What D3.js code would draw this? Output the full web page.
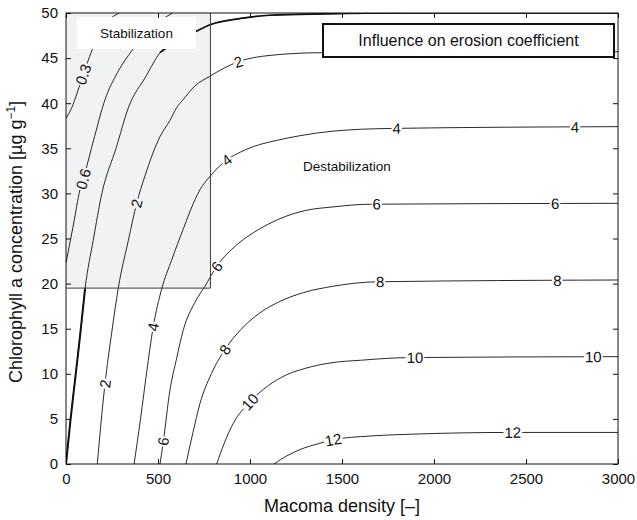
<!DOCTYPE html>
<html>
<head>
<meta charset="utf-8">
<script src="https://cdn.jsdelivr.net/npm/d3@7"></script>
<style>
  body { margin: 0; background: #fff; }
  text { font-family: "Liberation Sans", Arial, sans-serif; fill: #111; }
</style>
</head>
<body>
<div id="canvas"></div>
<script>
// ticks
const xTicks = [0, 500, 1000, 1500, 2000, 2500, 3000];
const yTicks = [0, 5, 10, 15, 20, 25, 30, 35, 40, 45, 50];

// contour lines, [macoma density, chlorophyll]
const line03 = [[0,38.3],[31,39.5],[94,43.2],[140,45.8],[200,48.4],[290,50]];
const line06 = [[0,22.3],[40,26.5],[76,30.4],[94,31.6],[155,36.3],[212,40.4],[280,43.4],[357,45.8],[460,48.3],[580,50]];
const line1  = [[0,0],[25,5],[53,10],[78,14.5],[104,19.5],[148,24.8],[195,30],[272,35],[339,39.5],[435,43],[511,45.6],[600,46.9],[701,47.9],[783,48.7],[950,49.4],[1109,49.75],[1400,49.9],[1870,50],[3000,50]];
const line2  = [[170,0],[190,4.5],[212,8.9],[248,14.5],[284,19.5],[339,24.8],[384,28.9],[430,32],[511,36.3],[565,38.1],[601,39.5],[637,40.4],[700,41.9],[783,43],[860,43.9],[937,44.6],[1109,45.3],[1390,45.6],[3000,45.7]];
const line4  = [[370,0],[405,5],[438,10.1],[474,15.2],[520,19.4],[574,22.6],[640,26.2],[701,29.3],[728,30.4],[783,31.9],[873,33.7],[950,34.6],[1050,35.4],[1150,35.9],[1272,36.4],[1450,36.9],[1761,37.2],[3000,37.4]];
const line6  = [[511,0],[529,2.5],[565,8.2],[600,11.6],[638,14.9],[700,17.9],[755,19.7],[819,21.9],[928,24.3],[1000,25.4],[1100,26.6],[1200,27.5],[1300,28.1],[1450,28.5],[1652,28.8],[3000,28.9]];
const line8  = [[652,0],[690,3.5],[728,6.7],[790,10],[864,12.7],[950,14.9],[1050,16.7],[1150,17.9],[1290,19],[1450,19.7],[1689,20.2],[3000,20.4]];
const line10 = [[819,0],[860,2.3],[909,4.5],[1000,6.9],[1100,8.7],[1200,9.9],[1300,10.6],[1435,11.2],[1600,11.5],[1870,11.8],[3000,11.9]];
const line12 = [[1130,0],[1200,0.9],[1272,1.6],[1380,2.3],[1453,2.7],[1650,3.1],[1870,3.3],[2428,3.5],[3000,3.5]];

// where the inline labels sit (x positions along each line)
const labels03 = [94];
const labels06 = [94];
const labels2  = [212, 384, 937];
const labels4  = [474, 873, 1797, 2766];
const labels6  = [529, 819, 1689, 2658];
const labels8  = [864, 1707, 2670];
const labels10 = [1000, 1897, 2866];
const labels12 = [1453, 2428];

// shaded stabilization zone
const zoneX = [0, 785];
const zoneY = [19.5, 50];

const contours = [
  { name: "0.3", pts: line03, labels: labels03 },
  { name: "0.6", pts: line06, labels: labels06 },
  { name: "1",   pts: line1,  labels: [] },
  { name: "2",   pts: line2,  labels: labels2 },
  { name: "4",   pts: line4,  labels: labels4 },
  { name: "6",   pts: line6,  labels: labels6 },
  { name: "8",   pts: line8,  labels: labels8 },
  { name: "10",  pts: line10, labels: labels10 },
  { name: "12",  pts: line12, labels: labels12 }
];

const width = 637, height = 520;
const margin = { top: 13, left: 66, right: 19, bottom: 56 };
const iwidth = width - margin.left - margin.right;
const iheight = height - margin.top - margin.bottom;

const svg = d3.select("#canvas").append("svg")
  .attr("width", width).attr("height", height);

svg.append("defs").append("clipPath").attr("id", "plotclip")
  .append("rect").attr("width", iwidth).attr("height", iheight);

const g = svg.append("g").attr("transform", `translate(${margin.left},${margin.top})`);

const x = d3.scaleLinear().domain([0, 3000]).range([0, iwidth]);
const y = d3.scaleLinear().domain([0, 50]).range([iheight, 0]);

// gray zone
g.append("rect")
  .attr("x", x(zoneX[0])).attr("y", y(zoneY[1]))
  .attr("width", x(zoneX[1]) - x(zoneX[0]))
  .attr("height", y(zoneY[0]) - y(zoneY[1]))
  .style("fill", "#f1f2f4");

const line = d3.line().x(d => x(d[0])).y(d => y(d[1])).curve(d3.curveMonotoneX);
const plot = g.append("g").attr("clip-path", "url(#plotclip)");

contours.forEach(c => {
  plot.append("path").attr("d", line(c.pts))
    .style("fill", "none").style("stroke", "#111").style("stroke-width", 0.9);
});
// the unity line is drawn heavier at its low and flat ends
plot.append("path").attr("d", line(line1.filter(d => d[1] <= 20)))
  .style("fill", "none").style("stroke", "#111").style("stroke-width", 2);
plot.append("path").attr("d", line(line1.filter(d => d[0] >= 500)))
  .style("fill", "none").style("stroke", "#111").style("stroke-width", 1.7);

function yAt(pts, xv) {
  for (let i = 0; i < pts.length - 1; i++) {
    const a = pts[i], b = pts[i + 1];
    if (xv >= a[0] && xv <= b[0]) return a[1] + (b[1] - a[1]) * (xv - a[0]) / (b[0] - a[0]);
  }
  return pts[pts.length - 1][1];
}

const labelLayer = g.append("g");
contours.forEach(c => {
  c.labels.forEach(lx => {
    const ly = yAt(c.pts, lx);
    const d = 12;
    const x0 = Math.max(c.pts[0][0], lx - d), x1 = lx + d;
    const ang = Math.atan2(y(yAt(c.pts, x1)) - y(yAt(c.pts, x0)), x(x1) - x(x0)) * 180 / Math.PI;
    const inZone = lx < zoneX[1] && ly > zoneY[0];
    const t = `translate(${x(lx)},${y(ly)}) rotate(${ang})`;
    const grp = labelLayer.append("g").attr("transform", t);
    const txt = grp.append("text").text(c.name)
      .attr("text-anchor", "middle").attr("dy", "0.36em")
      .style("font-size", "15px");
    const bb = txt.node().getBBox();
    grp.insert("rect", "text")
      .attr("x", bb.x - 1).attr("y", bb.y + 2)
      .attr("width", bb.width + 2).attr("height", bb.height - 4)
      .style("fill", inZone ? "#f1f2f4" : "#fff");
  });
});

// zone border (right and bottom)
g.append("path")
  .attr("d", `M${x(zoneX[0])},${y(zoneY[0])}H${x(zoneX[1])}V${y(zoneY[1])}`)
  .style("fill", "none").style("stroke", "#3c3c3c").style("stroke-width", 1);

// Stabilization label box
g.append("rect").attr("x", 11).attr("y", 4).attr("width", 119).attr("height", 32).style("fill", "#fff");
g.append("text").attr("x", 70.5).attr("y", 24.5).attr("text-anchor", "middle")
  .style("font-size", "13.5px").text("Stabilization");

g.append("text").attr("x", 237).attr("y", 157.5)
  .style("font-size", "13.5px").text("Destabilization");

// legend box
g.append("rect").attr("x", 257).attr("y", 11).attr("width", 291).attr("height", 33)
  .style("fill", "#fff").style("stroke", "#111").style("stroke-width", 2);
g.append("text").attr("x", 402.5).attr("y", 33).attr("text-anchor", "middle")
  .style("font-size", "16px").text("Influence on erosion coefficient");

// axes with inward ticks
const styleAxis = sel => {
  sel.select(".domain").remove();
  sel.selectAll("line").style("stroke", "#111");
  sel.selectAll("text").style("font-size", "15px").style("fill", "#111")
    .style("font-family", "'Liberation Sans', Arial, sans-serif");
};
g.append("g").attr("transform", `translate(0,${iheight})`)
  .call(d3.axisBottom(x).tickValues(xTicks).tickFormat(d3.format("d"))
    .tickSizeInner(-5).tickSizeOuter(0).tickPadding(9))
  .call(styleAxis);
g.append("g")
  .call(d3.axisTop(x).tickValues(xTicks).tickSizeInner(-5).tickSizeOuter(0).tickFormat(""))
  .call(styleAxis);
g.append("g")
  .call(d3.axisLeft(y).tickValues(yTicks).tickFormat(d3.format("d"))
    .tickSizeInner(-5).tickSizeOuter(0).tickPadding(8))
  .call(styleAxis);
g.append("g").attr("transform", `translate(${iwidth},0)`)
  .call(d3.axisRight(y).tickValues(yTicks).tickSizeInner(-5).tickSizeOuter(0).tickFormat(""))
  .call(styleAxis);

g.append("rect").attr("width", iwidth).attr("height", iheight)
  .style("fill", "none").style("stroke", "#111").style("stroke-width", 1);

// axis titles
svg.append("text").attr("x", margin.left + iwidth / 2).attr("y", 512)
  .attr("text-anchor", "middle").style("font-size", "18px").text("Macoma density [–]");

const yt = svg.append("text").attr("transform", "translate(22,242) rotate(-90)")
  .attr("text-anchor", "middle").style("font-size", "18px");
yt.append("tspan").text("Chlorophyll a concentration [µg g");
yt.append("tspan").attr("dy", -7).style("font-size", "12px").text("−1");
yt.append("tspan").attr("dy", 7).text("]");
</script>
</body>
</html>
